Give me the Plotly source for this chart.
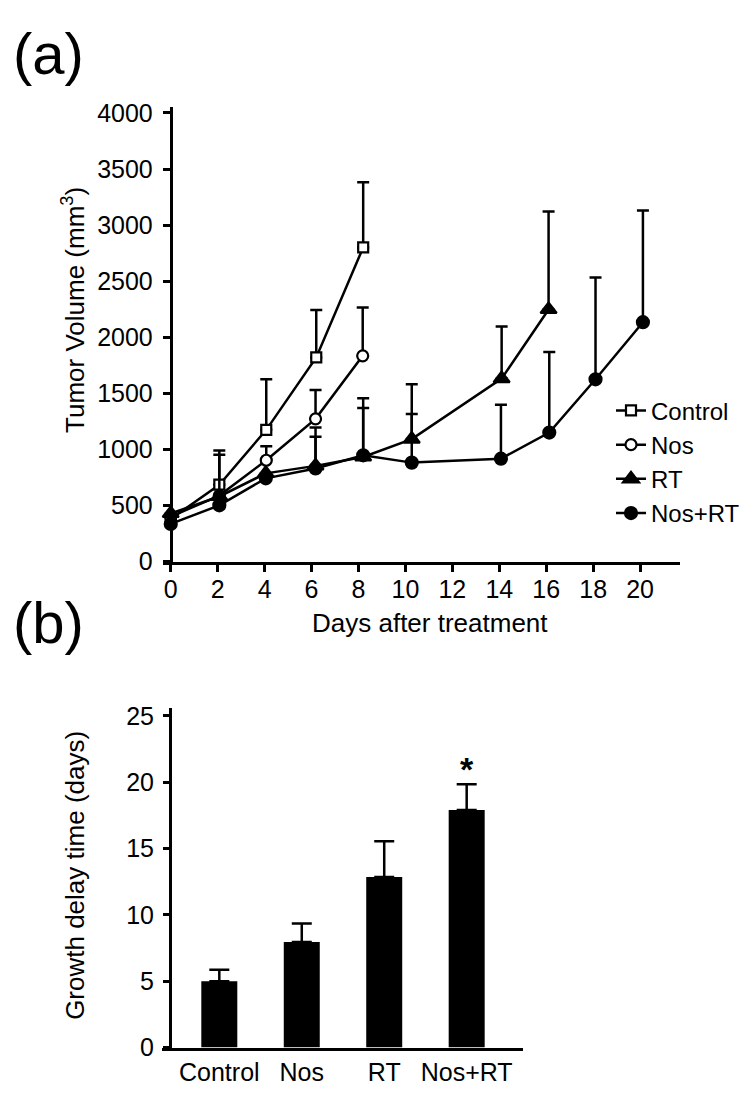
import plotly.graph_objects as go

# ---------------- data (a) ----------------
days_ctrl = [0, 2.07, 4.07, 6.2, 8.2]
vol_ctrl = [379, 685, 1174, 1820, 2801]
err_ctrl = [None, 305, 451, 422, 582]

days_nos = [0, 2.07, 4.07, 6.17, 8.18]
vol_nos = [400, 588, 903, 1272, 1834]
err_nos = [None, 364, 125, 257, 431]

days_rt = [0, 2.07, 4.05, 6.17, 8.2, 10.27, 14.1, 16.1]
vol_rt = [428, 580, 786, 853, 932, 1092, 1631, 2248]
err_rt = [None, None, None, 341, 524, 489, 465, 873]

days_nosrt = [0, 2.07, 4.05, 6.17, 8.2, 10.27, 14.07, 16.13, 18.1, 20.12]
vol_nosrt = [335, 501, 742, 830, 947, 882, 917, 1150, 1625, 2134]
err_nosrt = [None, None, None, 283, 422, 434, 480, 719, 908, 996]

x_ticks = list(range(0, 21, 2))
y_ticks = list(range(0, 4001, 500))

# ---------------- data (b) ----------------
groups = ["Control", "Nos", "RT", "Nos+RT"]
delay = [5.0, 7.95, 12.85, 17.9]
delay_err = [0.86, 1.4, 2.7, 1.95]
y2_ticks = [0, 5, 10, 15, 20, 25]

FONT = "Liberation Sans, Arial, Helvetica, sans-serif"
BLACK = "#000000"
W, H = 750, 1095


def px_x(p):
    return p / W


def px_y(p):
    return 1 - p / H


fig = go.Figure()


def add_series(x, y, err, name, symbol, fill, size):
    fig.add_trace(go.Scatter(
        x=x, y=y, name=name, mode="lines+markers",
        line=dict(color=BLACK, width=2.5),
        marker=dict(symbol=symbol, size=size, color=fill,
                    line=dict(color=BLACK, width=2.2)),
        error_y=dict(type="data", symmetric=False, array=err,
                     arrayminus=[0 if e is not None else None for e in err],
                     color=BLACK, thickness=2.5, width=6),
        cliponaxis=False, xaxis="x", yaxis="y",
    ))


add_series(days_ctrl, vol_ctrl, err_ctrl, "Control", "square", "white", 10)
add_series(days_nos, vol_nos, err_nos, "Nos", "circle", "white", 11)
add_series(days_rt, vol_rt, err_rt, "RT", "triangle-up", BLACK, 14)
add_series(days_nosrt, vol_nosrt, err_nosrt, "Nos+RT", "circle", BLACK, 12)

fig.add_trace(go.Bar(
    x=list(range(len(groups))), y=delay, width=0.4365,
    marker=dict(color=BLACK, line=dict(width=0)),
    error_y=dict(type="data", symmetric=False, array=delay_err,
                 arrayminus=[0] * len(delay_err),
                 color=BLACK, thickness=2.5, width=10),
    xaxis="x2", yaxis="y2", showlegend=False,
))

axis_common = dict(showgrid=False, zeroline=False, showline=True,
                   linecolor=BLACK, linewidth=2.5, ticks="outside",
                   tickcolor=BLACK, tickwidth=2.5,
                   tickfont=dict(family=FONT, size=25, color=BLACK))

fig.update_layout(
    width=W, height=H,
    margin=dict(l=0, r=0, t=0, b=0),
    paper_bgcolor="white", plot_bgcolor="white",
    font=dict(family=FONT, color=BLACK),
    xaxis=dict(axis_common, domain=[px_x(155), px_x(672)],
               range=[-0.33, 21.7], tickvals=x_ticks, ticklen=8,
               anchor="y", ticklabelstandoff=-4),
    yaxis=dict(axis_common, domain=[px_y(556.7), px_y(93)],
               range=[0, 4052], tickvals=y_ticks, ticklen=7,
               anchor="free", position=px_x(162.5), ticklabelstandoff=5),
    xaxis2=dict(axis_common, domain=[px_x(154), px_x(515)],
                range=[-0.695, 3.683], tickvals=list(range(len(groups))),
                ticktext=groups, ticks="", anchor="y2",
                ticklabelstandoff=1),
    yaxis2=dict(axis_common, domain=[px_y(1052.7), px_y(706)],
                range=[0, 25.6], tickvals=y2_ticks, ticklen=6,
                anchor="free", position=px_x(161.7), ticklabelstandoff=4),
    legend=dict(x=px_x(603), y=px_y(380), xanchor="left", yanchor="top",
                bgcolor="rgba(0,0,0,0)", borderwidth=0,
                font=dict(family=FONT, size=24, color=BLACK),
                tracegroupgap=0, itemwidth=30),
    showlegend=True,
)

ann_font = dict(family=FONT, size=26, color=BLACK)
fig.add_annotation(text="(a)", x=px_x(40), y=px_y(38.5), xref="paper", yref="paper",
                   xanchor="center", yanchor="middle", showarrow=False,
                   font=dict(family=FONT, size=58, color=BLACK))
fig.add_annotation(text="(b)", x=px_x(40), y=px_y(618.5), xref="paper", yref="paper",
                   xanchor="center", yanchor="middle", showarrow=False,
                   font=dict(family=FONT, size=58, color=BLACK))
fig.add_annotation(text="Tumor Volume (mm<sup>3</sup>)", textangle=-90,
                   x=px_x(66), y=px_y(300), xref="paper", yref="paper",
                   xanchor="center", yanchor="middle", showarrow=False, font=ann_font)
fig.add_annotation(text="Days after treatment",
                   x=px_x(422), y=px_y(619), xref="paper", yref="paper",
                   xanchor="center", yanchor="middle", showarrow=False, font=ann_font)
fig.add_annotation(text="Growth delay time (days)", textangle=-90,
                   x=px_x(67), y=px_y(877.5), xref="paper", yref="paper",
                   xanchor="center", yanchor="middle", showarrow=False, font=ann_font)
fig.add_annotation(text="<b>*</b>", x=3, y=delay[3] + delay_err[3],
                   xref="x2", yref="y2", xanchor="center", yanchor="bottom",
                   yshift=-6, showarrow=False,
                   font=dict(family=FONT, size=34, color=BLACK))

fig.write_html("out.html")
